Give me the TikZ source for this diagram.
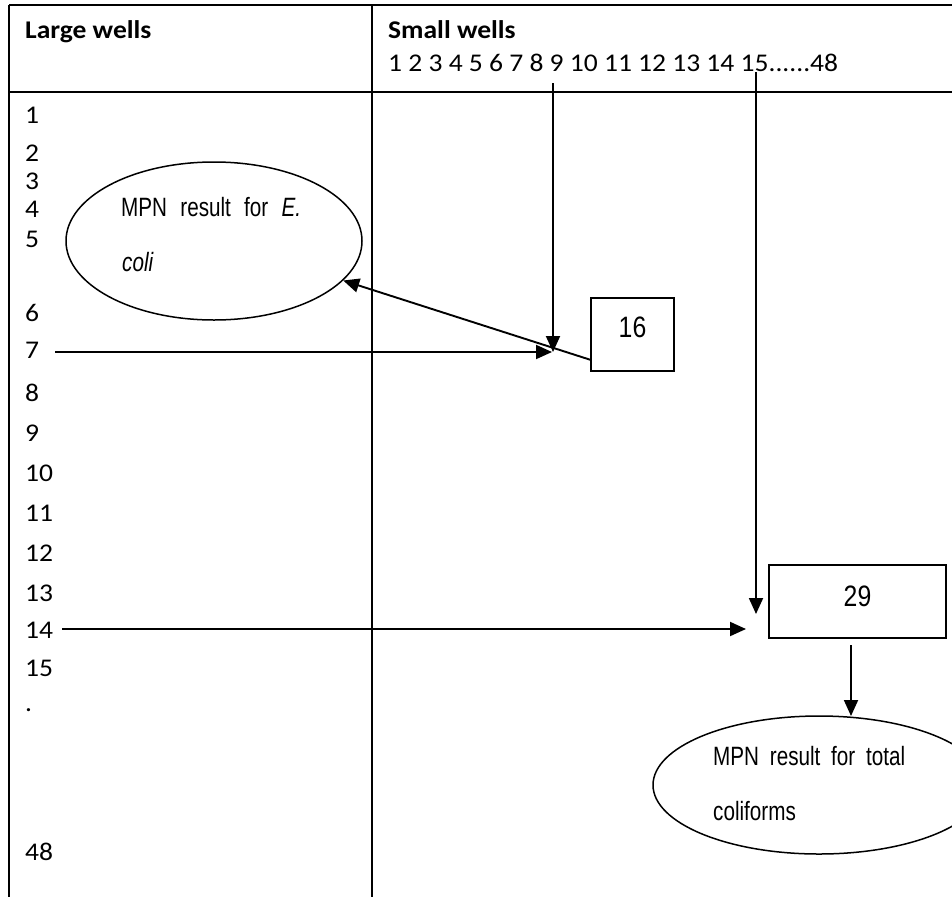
\documentclass[tikz,border=0pt]{standalone}
\usepackage{fontspec}
\setmainfont[FakeStretch=1.08]{Carlito}
\newfontfamily\arialn[FakeStretch=0.78]{Liberation Sans}
\newfontfamily\arialf[FakeStretch=0.84]{Liberation Sans}
\usetikzlibrary{arrows.meta,shapes.geometric,calc}
\begin{document}
\begin{tikzpicture}[x=1pt,y=-1pt,
  grid/.style={line width=1.6pt},
  arr/.style={line width=1.9pt,-{Triangle[length=16pt,width=14pt]}},
  numtxt/.style={anchor=base west,inner sep=0pt,font=\fontsize{25.5}{30}\selectfont},
  hdr/.style={anchor=base west,inner sep=0pt,font=\fontsize{25.5}{30}\selectfont\bfseries},
  box/.style={draw,line width=1.5pt,inner sep=0pt},
  oval/.style={draw,ellipse,line width=1.5pt,inner sep=0pt},
  ovtxt/.style={anchor=base west,inner sep=0pt,font=\arialn\fontsize{26.5}{30}\selectfont},
  boxtxt/.style={inner sep=0pt,font=\arialf\fontsize{29.5}{33}\selectfont}]
\useasboundingbox (0,0) rectangle (952,897);
\clip (0,0) rectangle (952,897);
% table grid
\draw[grid] (9,5) -- (952,5);
\draw[grid] (9,92) -- (952,92);
\draw[grid] (9,5) -- (9,897);
\draw[grid] (372,5) -- (372,897);
% headers
\node[hdr] (hl) at (25,38) {Large wells};
\node[hdr] (hs) at (388,38) {Small wells};
\node[numtxt] (sn) at (388,71) {1 2 3 4 5 6 7 8 9 10 11 12 13 14 15......48};
% left numbers
\node[numtxt] (n1) at (25,123) {1};
\node[numtxt] (n2) at (25,161) {2};
\node[numtxt] (n3) at (25,189) {3};
\node[numtxt] (n4) at (25,217) {4};
\node[numtxt] (n5) at (25,247) {5};
\node[numtxt] (n6) at (25,321) {6};
\node[numtxt] (n7) at (25,358) {7};
\node[numtxt] (n8) at (25,401) {8};
\node[numtxt] (n9) at (25,441) {9};
\node[numtxt] (n10) at (25,481) {10};
\node[numtxt] (n11) at (25,521) {11};
\node[numtxt] (n12) at (25,561) {12};
\node[numtxt] (n13) at (25,601) {13};
\node[numtxt] (n14) at (25,638) {14};
\node[numtxt] (n15) at (25,676) {15};
\node[numtxt] (ndot) at (25,711) {.};
\node[numtxt] (n48) at (25,860) {48};
% E. coli ellipse
\node[oval,minimum width=296pt,minimum height=158pt] (eE) at (214,241) {};
\node[ovtxt] (eE1) at (121,216) {\makebox[180pt][s]{MPN result for \textit{E.}}};
\node[ovtxt] (eE2) at (122,271) {\textit{coli}};
% box 16
\node[box,minimum width=83pt,minimum height=73pt] (b16) at (632.5,334.5) {};
\node[boxtxt] (t16) at (632.5,327) {16};
% box 29
\node[box,minimum width=177pt,minimum height=73pt] (b29) at (857.5,601.5) {};
\node[boxtxt] (t29) at (857.5,596) {29};
% total coliforms ellipse
\node[oval,minimum width=332pt,minimum height=138pt] (eT) at (819,785) {};
\node[ovtxt] (eT1) at (713,765) {\makebox[192pt][s]{MPN result for total}};
\node[ovtxt] (eT2) at (713,820) {coliforms};
% connector coordinates
\coordinate (c9) at (553,83);
\coordinate (c9e) at (553,352);
\coordinate (c7) at (55,352);
\coordinate (c7e) at (552,352);
\coordinate (c16) at (591,360);
\coordinate (c15) at (756,72);
\coordinate (c15e) at (756,614);
\coordinate (c14) at (62,629);
\coordinate (c14e) at (746,629);
\coordinate (c29) at (851,645);
\coordinate (c29e) at (851,716);
% arrows
\draw[arr] (c9) -- (c9e);
\draw[arr] (c7) -- (c7e);
\draw[arr] (c16) -- (eE.-17);
\draw[arr] (c15) -- (c15e);
\draw[arr] (c14) -- (c14e);
\draw[arr] (c29) -- (c29e);
\end{tikzpicture}
\end{document}
